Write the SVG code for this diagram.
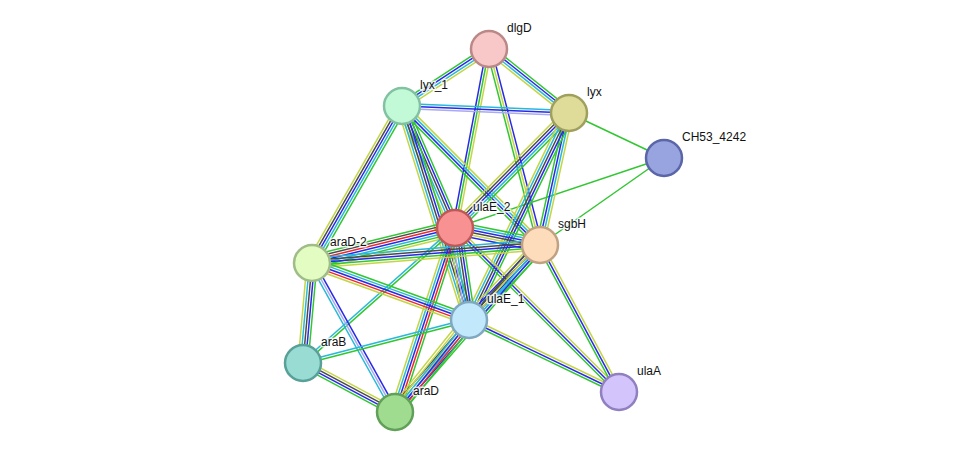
<svg xmlns="http://www.w3.org/2000/svg" width="976" height="458" viewBox="0 0 976 458">
<style>
line{stroke-width:1.5;fill:none;vector-effect:non-scaling-stroke}
.G{stroke:#33c633}.R{stroke:#f02828}.B{stroke:#2828e8}.C{stroke:#28b8d8}.Y{stroke:#c4d646}.K{stroke:#4a4a4a}.L{stroke:#aaaaf0}
.n{stroke-width:2.5}
text{font-family:"Liberation Sans",Arial,sans-serif;font-size:12px;fill:#111;stroke:#fff;stroke-width:3;stroke-opacity:0.8;paint-order:stroke;stroke-linejoin:round}
</style>
<rect width="976" height="458" fill="#fff"/>
<g id="connectors">
<g transform="translate(489 49) rotate(146.8) scale(1 1.25)"><line x2="104" y1="-3" y2="-3" class="Y"/><line x2="104" y1="-1" y2="-1" class="C"/><line x2="104" y1="1" y2="1" class="B"/><line x2="104" y1="3" y2="3" class="G"/></g>
<g transform="translate(489 49) rotate(38.66) scale(1 1.25)"><line x2="102.4" y1="-3" y2="-3" class="G"/><line x2="102.4" y1="-1" y2="-1" class="B"/><line x2="102.4" y1="1" y2="1" class="C"/><line x2="102.4" y1="3" y2="3" class="Y"/></g>
<g transform="translate(489 49) rotate(100.75) scale(1 1.25)"><line x2="182.2" y1="-2" y2="-2" class="Y"/><line x2="182.2" y1="0" y2="0" class="G"/><line x2="182.2" y1="2" y2="2" class="B"/></g>
<g transform="translate(489 49) rotate(75.42) scale(1 1.25)"><line x2="202.5" y1="-2" y2="-2" class="B"/><line x2="202.5" y1="0" y2="0" class="Y"/><line x2="202.5" y1="2" y2="2" class="G"/></g>
<g transform="translate(402 106) rotate(2.4) scale(1 1.25)"><line x2="167.1" y1="-2" y2="-2" class="C"/><line x2="167.1" y1="0" y2="0" class="B"/><line x2="167.1" y1="2" y2="2" class="L"/></g>
<g transform="translate(402 106) rotate(119.82) scale(1 1.25)"><line x2="181" y1="-4" y2="-4" class="G"/><line x2="181" y1="-2" y2="-2" class="C"/><line x2="181" y1="0" y2="0" class="B"/><line x2="181" y1="2" y2="2" class="K"/><line x2="181" y1="4" y2="4" class="Y"/></g>
<g transform="translate(402 106) rotate(66.52) scale(1 1.25)"><line x2="133" y1="-4" y2="-4" class="G"/><line x2="133" y1="-2" y2="-2" class="B"/><line x2="133" y1="0" y2="0" class="K"/><line x2="133" y1="2" y2="2" class="C"/><line x2="133" y1="4" y2="4" class="Y"/></g>
<g transform="translate(402 106) rotate(72.62) scale(1 1.25)"><line x2="224.2" y1="-4" y2="-4" class="G"/><line x2="224.2" y1="-2" y2="-2" class="B"/><line x2="224.2" y1="0" y2="0" class="K"/><line x2="224.2" y1="2" y2="2" class="C"/><line x2="224.2" y1="4" y2="4" class="Y"/></g>
<g transform="translate(402 106) rotate(45.2) scale(1 1.25)"><line x2="195.9" y1="-3" y2="-3" class="Y"/><line x2="195.9" y1="-1" y2="-1" class="C"/><line x2="195.9" y1="1" y2="1" class="B"/><line x2="195.9" y1="3" y2="3" class="G"/></g>
<line x1="569" y1="113" x2="664" y2="158" class="G"/>
<line x1="664" y1="158" x2="455" y2="228" class="G"/>
<line x1="664" y1="158" x2="540" y2="245" class="G"/>
<g transform="translate(569 113) rotate(134.75) scale(1 1.25)"><line x2="161.9" y1="-4" y2="-4" class="G"/><line x2="161.9" y1="-2" y2="-2" class="C"/><line x2="161.9" y1="0" y2="0" class="B"/><line x2="161.9" y1="2" y2="2" class="K"/><line x2="161.9" y1="4" y2="4" class="Y"/></g>
<g transform="translate(569 113) rotate(102.39) scale(1 1.25)"><line x2="135.1" y1="-3" y2="-3" class="Y"/><line x2="135.1" y1="-1" y2="-1" class="C"/><line x2="135.1" y1="1" y2="1" class="B"/><line x2="135.1" y1="3" y2="3" class="G"/></g>
<g transform="translate(569 113) rotate(115.78) scale(1 1.25)"><line x2="229.9" y1="-4" y2="-4" class="G"/><line x2="229.9" y1="-2" y2="-2" class="B"/><line x2="229.9" y1="0" y2="0" class="K"/><line x2="229.9" y1="2" y2="2" class="C"/><line x2="229.9" y1="4" y2="4" class="Y"/></g>
<g transform="translate(455 228) rotate(11.31) scale(1 1.25)"><line x2="86.7" y1="-5" y2="-5" class="G"/><line x2="86.7" y1="-3" y2="-3" class="C"/><line x2="86.7" y1="-1" y2="-1" class="B"/><line x2="86.7" y1="1" y2="1" class="K"/><line x2="86.7" y1="3" y2="3" class="Y"/><line x2="86.7" y1="5" y2="5" class="B"/></g>
<g transform="translate(455 228) rotate(166.25) scale(1 1.25)"><line x2="147.2" y1="-6" y2="-6" class="Y"/><line x2="147.2" y1="-4" y2="-4" class="G"/><line x2="147.2" y1="-2" y2="-2" class="C"/><line x2="147.2" y1="0" y2="0" class="B"/><line x2="147.2" y1="2" y2="2" class="R"/><line x2="147.2" y1="4" y2="4" class="K"/><line x2="147.2" y1="6" y2="6" class="G"/></g>
<g transform="translate(455 228) rotate(81.35) scale(1 1.25)"><line x2="93.1" y1="-5" y2="-5" class="G"/><line x2="93.1" y1="-3" y2="-3" class="B"/><line x2="93.1" y1="-1" y2="-1" class="K"/><line x2="93.1" y1="1" y2="1" class="C"/><line x2="93.1" y1="3" y2="3" class="L"/><line x2="93.1" y1="5" y2="5" class="Y"/></g>
<g transform="translate(455 228) rotate(108.06) scale(1 1.25)"><line x2="193.5" y1="-4" y2="-4" class="G"/><line x2="193.5" y1="-2" y2="-2" class="R"/><line x2="193.5" y1="0" y2="0" class="B"/><line x2="193.5" y1="2" y2="2" class="C"/><line x2="193.5" y1="4" y2="4" class="Y"/></g>
<g transform="translate(455 228) rotate(138.4) scale(1 1.25)"><line x2="203.3" y1="-1" y2="-1" class="G"/><line x2="203.3" y1="1" y2="1" class="C"/></g>
<g transform="translate(455 228) rotate(45) scale(1 1.25)"><line x2="231.9" y1="-2" y2="-2" class="Y"/><line x2="231.9" y1="0" y2="0" class="B"/><line x2="231.9" y1="2" y2="2" class="G"/></g>
<g transform="translate(540 245) rotate(175.49) scale(1 1.25)"><line x2="228.7" y1="-4" y2="-4" class="Y"/><line x2="228.7" y1="-2" y2="-2" class="G"/><line x2="228.7" y1="0" y2="0" class="B"/><line x2="228.7" y1="2" y2="2" class="K"/><line x2="228.7" y1="4" y2="4" class="C"/></g>
<g transform="translate(540 245) rotate(133.43) scale(1 1.25)"><line x2="103.3" y1="-5" y2="-5" class="G"/><line x2="103.3" y1="-3" y2="-3" class="C"/><line x2="103.3" y1="-1" y2="-1" class="B"/><line x2="103.3" y1="1" y2="1" class="K"/><line x2="103.3" y1="3" y2="3" class="B"/><line x2="103.3" y1="5" y2="5" class="Y"/></g>
<g transform="translate(540 245) rotate(130.97) scale(1 1.25)"><line x2="221.2" y1="-4" y2="-4" class="G"/><line x2="221.2" y1="-2" y2="-2" class="B"/><line x2="221.2" y1="0" y2="0" class="C"/><line x2="221.2" y1="2" y2="2" class="Y"/><line x2="221.2" y1="4" y2="4" class="K"/></g>
<g transform="translate(540 245) rotate(61.75) scale(1 1.25)"><line x2="166.9" y1="-2" y2="-2" class="Y"/><line x2="166.9" y1="0" y2="0" class="B"/><line x2="166.9" y1="2" y2="2" class="G"/></g>
<g transform="translate(312 263) rotate(19.95) scale(1 1.25)"><line x2="167" y1="-4" y2="-4" class="G"/><line x2="167" y1="-2" y2="-2" class="C"/><line x2="167" y1="0" y2="0" class="B"/><line x2="167" y1="2" y2="2" class="R"/><line x2="167" y1="4" y2="4" class="Y"/></g>
<g transform="translate(312 263) rotate(95.14) scale(1 1.25)"><line x2="100.4" y1="-4" y2="-4" class="G"/><line x2="100.4" y1="-2" y2="-2" class="B"/><line x2="100.4" y1="0" y2="0" class="K"/><line x2="100.4" y1="2" y2="2" class="C"/><line x2="100.4" y1="4" y2="4" class="Y"/></g>
<g transform="translate(312 263) rotate(60.88) scale(1 1.25)"><line x2="170.6" y1="-2" y2="-2" class="B"/><line x2="170.6" y1="0" y2="0" class="L"/><line x2="170.6" y1="2" y2="2" class="C"/></g>
<g transform="translate(469 320) rotate(165.48) scale(1 1.25)"><line x2="171.5" y1="-1" y2="-1" class="G"/><line x2="171.5" y1="1" y2="1" class="C"/></g>
<g transform="translate(469 320) rotate(128.81) scale(1 1.25)"><line x2="118.1" y1="-5" y2="-5" class="G"/><line x2="118.1" y1="-3" y2="-3" class="R"/><line x2="118.1" y1="-1" y2="-1" class="B"/><line x2="118.1" y1="1" y2="1" class="C"/><line x2="118.1" y1="3" y2="3" class="Y"/><line x2="118.1" y1="5" y2="5" class="Y"/></g>
<g transform="translate(469 320) rotate(25.64) scale(1 1.25)"><line x2="166.4" y1="-2" y2="-2" class="Y"/><line x2="166.4" y1="0" y2="0" class="B"/><line x2="166.4" y1="2" y2="2" class="G"/></g>
<g transform="translate(303 363) rotate(28.04) scale(1 1.25)"><line x2="104.2" y1="-3" y2="-3" class="Y"/><line x2="104.2" y1="-1" y2="-1" class="K"/><line x2="104.2" y1="1" y2="1" class="B"/><line x2="104.2" y1="3" y2="3" class="G"/></g>
</g>
<g id="dlgD"><circle class="n" cx="489" cy="49" r="18" fill="#f8c8c8" stroke="#bb8888"/><text x="507" y="32">dlgD</text></g>
<g id="lyx_1"><circle class="n" cx="402" cy="106" r="18" fill="#c2fad8" stroke="#82c2a2"/><text x="420" y="89">lyx_1</text></g>
<g id="lyx"><circle class="n" cx="569" cy="113" r="18" fill="#dedc98" stroke="#a0a05e"/><text x="587" y="96">lyx</text></g>
<g id="CH53_4242"><circle class="n" cx="664" cy="158" r="18" fill="#98a4e0" stroke="#5a66a8"/><text x="682" y="141">CH53_4242</text></g>
<g id="ulaE_2"><circle class="n" cx="455" cy="228" r="18" fill="#f89292" stroke="#c05858"/><text x="473" y="211">ulaE_2</text></g>
<g id="sgbH"><circle class="n" cx="540" cy="245" r="18" fill="#fddcbc" stroke="#c0a282"/><text x="558" y="228">sgbH</text></g>
<g id="araD-2"><circle class="n" cx="312" cy="263" r="18" fill="#e2fcc2" stroke="#a0bc88"/><text x="330" y="246">araD-2</text></g>
<g id="ulaE_1"><circle class="n" cx="469" cy="320" r="18" fill="#c2e8fc" stroke="#80a8c0"/><text x="487" y="303">ulaE_1</text></g>
<g id="araB"><circle class="n" cx="303" cy="363" r="18" fill="#98dcd4" stroke="#58a098"/><text x="321" y="346">araB</text></g>
<g id="araD"><circle class="n" cx="395" cy="412" r="18" fill="#a0dc90" stroke="#60a058"/><text x="413" y="395">araD</text></g>
<g id="ulaA"><circle class="n" cx="619" cy="392" r="18" fill="#d4c4fc" stroke="#9080c0"/><text x="637" y="375">ulaA</text></g>
</svg>
